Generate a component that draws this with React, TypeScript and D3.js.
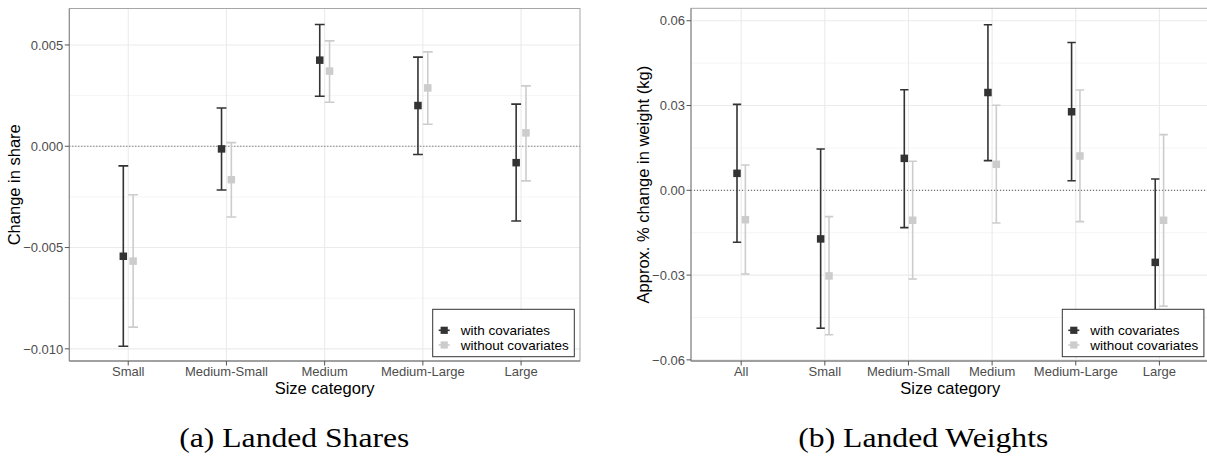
import React from "react";
import * as d3 from "d3";

// ---------- Data ----------
const catsA = ["Small", "Medium-Small", "Medium", "Medium-Large", "Large"];
const withCovA = [-0.00543, -0.00013, 0.00425, 0.00201, -0.00081];
const withCovALo = [-0.00987, -0.00216, 0.00247, -0.00041, -0.00369];
const withCovAHi = [-0.00097, 0.00189, 0.00601, 0.0044, 0.00208];
const withoutCovA = [-0.00567, -0.00165, 0.00371, 0.00288, 0.00066];
const withoutCovALo = [-0.00893, -0.00349, 0.00217, 0.00109, -0.00171];
const withoutCovAHi = [-0.00239, 0.00018, 0.0052, 0.00466, 0.00298];
const ticksA = [-0.01, -0.005, 0, 0.005];

const catsB = ["All", "Small", "Medium-Small", "Medium", "Medium-Large", "Large"];
const withCovB = [0.006, -0.0172, 0.0113, 0.0346, 0.0278, -0.0255];
const withCovBLo = [-0.0184, -0.0488, -0.0132, 0.0105, 0.0034, -0.055];
const withCovBHi = [0.0304, 0.0146, 0.0356, 0.0586, 0.0523, 0.004];
const withoutCovB = [-0.0104, -0.0303, -0.0106, 0.0092, 0.01215, -0.0106];
const withoutCovBLo = [-0.0296, -0.0511, -0.0314, -0.01156, -0.0111, -0.041];
const withoutCovBHi = [0.00895, -0.0093, 0.01026, 0.0301, 0.0355, 0.0197];
const ticksB = [-0.06, -0.03, 0, 0.03, 0.06];

const seriesNames = ["with covariates", "without covariates"];
const DARK = "#333333";
const LIGHT = "#CCCCCC";
const FONT = "'Liberation Sans', Arial, sans-serif";

type PanelProps = {
  x0: number; x1: number; y0: number; y1: number;
  cats: string[];
  domain: [number, number];
  ticks: number[];
  fmt: string;
  est: number[][]; lo: number[][]; hi: number[][];
  yTitle: string; yTitleX: number;
};

function Panel(p: PanelProps) {
  const x = d3.scalePoint<string>().domain(p.cats).range([p.x0, p.x1]).padding(0.6);
  const y = d3.scaleLinear().domain(p.domain).range([p.y1, p.y0]);
  const step = x.step();
  const dodge = step * 0.1;
  const capW = step * 0.1;
  const format = d3.format(p.fmt);
  const minor: number[] = [];
  const tstep = p.ticks[1] - p.ticks[0];
  for (let i = -1; i < p.ticks.length; i++) {
    const v = (i < 0 ? p.ticks[0] - tstep : p.ticks[i]) + tstep / 2;
    if (v > p.domain[0] && v < p.domain[1]) minor.push(v);
  }
  const colors = [DARK, LIGHT];
  const sq = 7.5;
  const lgX = p.x1 - 147.3, lgY = p.y1 - 51.7;
  return (
    <g>
      <defs>
        <clipPath id={`clip${p.x0}`}>
          <rect x={p.x0} y={p.y0} width={p.x1 - p.x0} height={p.y1 - p.y0} />
        </clipPath>
      </defs>
      {minor.map((v) => (
        <line key={"mi" + v} x1={p.x0} x2={p.x1} y1={y(v)} y2={y(v)} stroke="#F3F3F3" strokeWidth={0.8} />
      ))}
      {p.ticks.map((v) => (
        <line key={"ma" + v} x1={p.x0} x2={p.x1} y1={y(v)} y2={y(v)} stroke="#EBEBEB" strokeWidth={1.1} />
      ))}
      {p.cats.map((c) => (
        <line key={"vg" + c} x1={x(c)} x2={x(c)} y1={p.y0} y2={p.y1} stroke="#EBEBEB" strokeWidth={1.1} />
      ))}
      <line x1={p.x0} x2={p.x1} y1={y(0)} y2={y(0)} stroke="#555" strokeWidth={1} strokeDasharray="1,2" />
      <g clipPath={`url(#clip${p.x0})`}>
        {[0, 1].map((s) =>
          p.cats.map((c, i) => {
            const cx = (x(c) as number) + (s === 0 ? -dodge / 2 : dodge / 2);
            const col = colors[s];
            return (
              <g key={s + c}>
                <line x1={cx} x2={cx} y1={y(p.lo[s][i])} y2={y(p.hi[s][i])} stroke={col} strokeWidth={1.6} />
                <line x1={cx - capW / 2} x2={cx + capW / 2} y1={y(p.lo[s][i])} y2={y(p.lo[s][i])} stroke={col} strokeWidth={1.6} />
                <line x1={cx - capW / 2} x2={cx + capW / 2} y1={y(p.hi[s][i])} y2={y(p.hi[s][i])} stroke={col} strokeWidth={1.6} />
                <rect x={cx - sq / 2} y={y(p.est[s][i]) - sq / 2} width={sq} height={sq} fill={col} />
              </g>
            );
          })
        )}
      </g>
      <rect x={p.x0} y={p.y0} width={p.x1 - p.x0} height={p.y1 - p.y0} fill="none" stroke="#A6A6A6" strokeWidth={1} />
      <line x1={p.x0} x2={p.x1} y1={p.y1} y2={p.y1} stroke="#6E6E6E" strokeWidth={1} />
      <line x1={p.x0} x2={p.x0} y1={p.y0} y2={p.y1} stroke="#8A8A8A" strokeWidth={1} />
      {p.ticks.map((v) => (
        <g key={"t" + v}>
          <line x1={p.x0 - 4.5} x2={p.x0} y1={y(v)} y2={y(v)} stroke="#555" strokeWidth={1} />
          <text x={p.x0 - 6} y={y(v)} dy="0.36em" textAnchor="end" fontFamily={FONT} fontSize={13} fill="#4D4D4D">
            {format(v)}
          </text>
        </g>
      ))}
      {p.cats.map((c) => (
        <g key={"xt" + c}>
          <line x1={x(c)} x2={x(c)} y1={p.y1} y2={p.y1 + 4.5} stroke="#555" strokeWidth={1} />
          <text x={x(c)} y={p.y1 + 14.5} textAnchor="middle" fontFamily={FONT} fontSize={13} fill="#4D4D4D">
            {c}
          </text>
        </g>
      ))}
      <text x={(p.x0 + p.x1) / 2} y={p.y1 + 32.5} textAnchor="middle" fontFamily={FONT} fontSize={16.5} fill="#000">
        Size category
      </text>
      <text
        transform={`translate(${p.yTitleX},${(p.y0 + p.y1) / 2}) rotate(-90)`}
        textAnchor="middle" fontFamily={FONT} fontSize={16.5} fill="#000"
      >
        {p.yTitle}
      </text>
      <rect x={lgX} y={lgY} width={141.6} height={47.4} fill="#fff" stroke="#333" strokeWidth={1} />
      {seriesNames.map((n, s) => {
        const ky = lgY + 21 + s * 14.7;
        return (
          <g key={n}>
            <line x1={lgX + 6} x2={lgX + 17} y1={ky} y2={ky} stroke={colors[s]} strokeWidth={1.6} />
            <rect x={lgX + 11.5 - 3.6} y={ky - 3.6} width={7.2} height={7.2} fill={colors[s]} />
            <text x={lgX + 28} y={ky} dy="0.36em" fontFamily={FONT} fontSize={13.5} fill="#000">
              {n}
            </text>
          </g>
        );
      })}
    </g>
  );
}

export default function App() {
  return (
    <svg width={1207} height={457} style={{ position: "absolute", left: 0, top: 0, background: "#fff" }}>
      <rect x={0} y={0} width={1207} height={457} fill="#fff" />
      <Panel
        x0={69.3} x1={580} y0={8.5} y1={361}
        cats={catsA} domain={[-0.0106, 0.0068]} ticks={ticksA} fmt=".3f"
        est={[withCovA, withoutCovA]} lo={[withCovALo, withoutCovALo]} hi={[withCovAHi, withoutCovAHi]}
        yTitle="Change in share" yTitleX={20}
      />
      <Panel
        x0={691} x1={1209.6} y0={8.3} y1={361}
        cats={catsB} domain={[-0.0604, 0.0644]} ticks={ticksB} fmt=".2f"
        est={[withCovB, withoutCovB]} lo={[withCovBLo, withoutCovBLo]} hi={[withCovBHi, withoutCovBHi]}
        yTitle="Approx. % change in weight (kg)" yTitleX={649}
      />
      <text x={294.3} y={447.3} textAnchor="middle" fontFamily="'Liberation Serif', 'Times New Roman', serif"
        fontSize={27.5} textLength={230} lengthAdjust="spacingAndGlyphs" fill="#000">
        (a) Landed Shares
      </text>
      <text x={923.3} y={447.3} textAnchor="middle" fontFamily="'Liberation Serif', 'Times New Roman', serif"
        fontSize={27.5} textLength={250} lengthAdjust="spacingAndGlyphs" fill="#000">
        (b) Landed Weights
      </text>
    </svg>
  );
}
